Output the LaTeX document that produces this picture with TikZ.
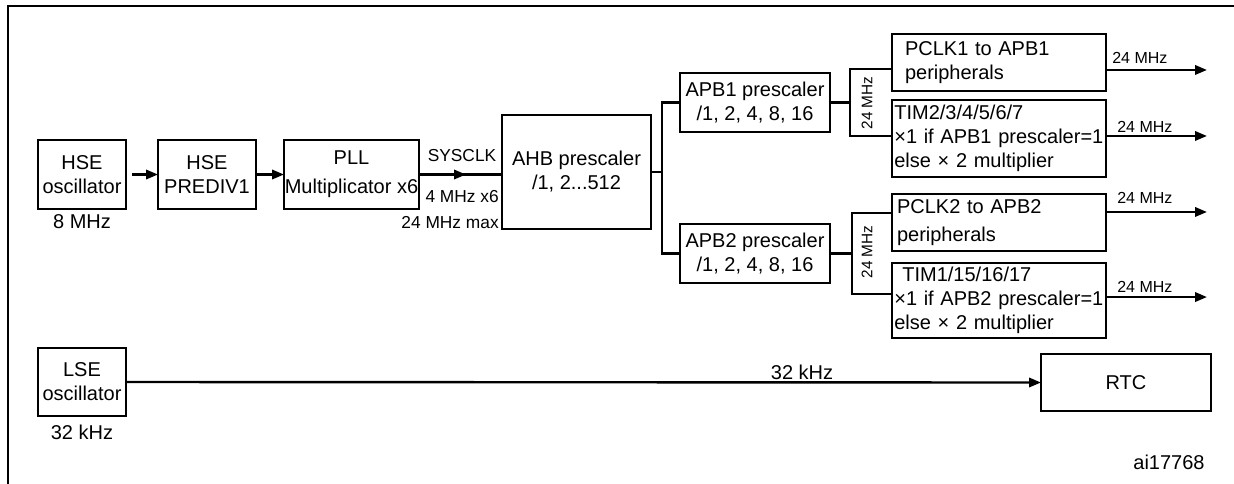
\documentclass[tikz,border=0pt]{standalone}
\usepackage{fontspec}
\setmainfont{Liberation Sans}
\usetikzlibrary{arrows.meta}
\begin{document}
\begin{tikzpicture}[x=0.75pt,y=-0.75pt,
  box/.style={draw,line width=2pt,inner sep=0pt,outer sep=0pt,align=center,
    font=\fontsize{15}{18}\selectfont},
  lbox/.style={box,align=left,anchor=center},
  conn/.style={line width=1.8pt},
  arr/.style={line width=1.8pt,-{Triangle[length=9pt,width=7pt]}},
  frame/.style={line width=1.8pt},
  lbl/.style={font=\fontsize{15}{18}\selectfont,inner sep=0pt},
  slbl/.style={font=\fontsize{13}{15}\selectfont,inner sep=0pt},
  olbl/.style={font=\fontsize{12}{14}\selectfont,inner sep=0pt,anchor=base west},
  rlbl/.style={font=\fontsize{11.5}{13}\selectfont,inner sep=0pt,rotate=90}]
\useasboundingbox (0,0) rectangle (1234,483);
% frame (cut by page edges)
\draw[frame] (8,495) -- (8,6) -- (1245,6);
% boxes
\node[box,minimum width=66pt,minimum height=51.75pt] (hse) at (82,174.5) {HSE\\oscillator};
\node[box,minimum width=73.5pt,minimum height=51.75pt] (prediv) at (207,174.5) {HSE\\PREDIV1};
\node[box,minimum width=101.25pt,minimum height=51.75pt] (pll) at (351.5,174.5) {PLL\\[3.75pt]Multiplicator x6};
\node[box,minimum width=111.75pt,minimum height=85.5pt] (ahb) at (576.5,172) {AHB prescaler\\/1, 2...512};
\node[box,minimum width=112.5pt,minimum height=44.25pt] (apb1) at (755,102.5) {APB1 prescaler\\/1, 2, 4, 8, 16};
\node[box,minimum width=112.5pt,minimum height=44.25pt] (apb2) at (755,253.5) {APB2 prescaler\\/1, 2, 4, 8, 16};
\node[lbox,text width=141pt,inner xsep=9.75pt,minimum height=42.75pt] (pclk1) at (999,62.5) {PCLK1 to APB1\\peripherals};
\node[lbox,text width=157pt,inner xsep=1.75pt,minimum height=57.75pt] (tim1) at (999,138.5) {TIM2/3/4/5/6/7\\×1 if APB1 prescaler=1\\else × 2 multiplier};
\node[lbox,text width=153pt,inner xsep=3.75pt,minimum height=42.75pt] (pclk2) at (999,222.5) {PCLK2 to APB2\\[3pt]peripherals};
\node[lbox,text width=157pt,inner xsep=1.75pt,minimum height=56.25pt] (tim2) at (999,300.5) {\hspace*{6pt}TIM1/15/16/17\\×1 if APB2 prescaler=1\\else × 2 multiplier};
\node[box,minimum width=66pt,minimum height=51pt] (lse) at (82,382) {LSE\\oscillator};
\node[box,minimum width=127.5pt,minimum height=42.75pt] (rtc) at (1126,382.5) {RTC};
% labels
\node[lbl] (f8) at (82,222) {8 MHz};
\node[lbl] (f32) at (82,432) {32 kHz};
\node[slbl] (sys) at (462,156) {SYSCLK};
\node[slbl,anchor=east] (x6) at (499,197) {4 MHz x6};
\node[slbl,anchor=east] (max) at (499,223) {24 MHz max};
\node[rlbl] (r1) at (867,103) {24 MHz};
\node[rlbl] (r2) at (867,252) {24 MHz};
\node[olbl] (o1) at (1112,63) {24 MHz};
\node[olbl] (o2) at (1117,132) {24 MHz};
\node[olbl] (o3) at (1117,203) {24 MHz};
\node[olbl] (o4) at (1117,292) {24 MHz};
\node[lbl] (k32) at (802,372) {32 kHz};
\node[lbl] (ai) at (1169,462) {ai17768};
% connectors
\draw[arr] ([xshift=4.5pt]hse.east) -- (prediv.west);
\draw[arr] (prediv.east) -- (pll.west);
\draw[conn] (pll.east) -- (ahb.west |- pll.east);
\draw[arr] (pll.east) -- ++(47,0);
\coordinate (j1) at (662,172);
\draw[conn] (ahb.east) -- (j1);
\draw[conn] (apb1.west) -| (j1) |- (apb2.west);
\coordinate (j2) at (850,102.5);
\draw[conn] (apb1.east) -- (j2);
\draw[conn] ([yshift=-4.9pt]pclk1.west) -| (j2) |- ([yshift=1.9pt]tim1.west);
\coordinate (j3) at (852,253.5);
\draw[conn] (apb2.east) -- (j3);
\draw[conn] ([yshift=7.1pt]pclk2.west) -| (j3) |- ([yshift=4.9pt]tim2.west);
\draw[arr] ([yshift=-5.6pt]pclk1.east) -- ++(101,0);
\draw[arr] ([yshift=1.9pt]tim1.east) -- ++(101,0);
\draw[arr] ([yshift=7.9pt]pclk2.east) -- ++(101,0);
\draw[arr] ([yshift=2.6pt]tim2.east) -- ++(101,0);
\draw[arr] (lse.east) -- (rtc.west);
\end{tikzpicture}
\end{document}
